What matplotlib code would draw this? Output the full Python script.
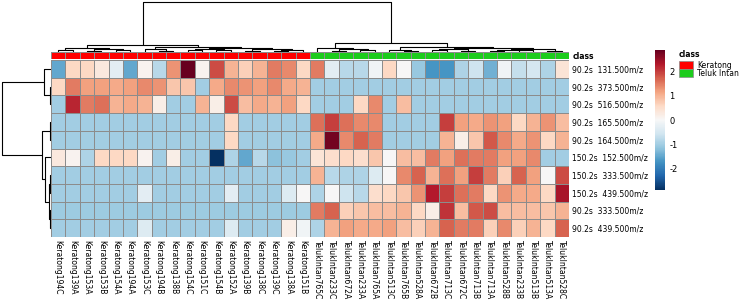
import matplotlib
matplotlib.use("Agg")
import matplotlib.pyplot as plt
import numpy as np
from matplotlib.colors import ListedColormap

plt.rcParams["axes.unicode_minus"] = False

W, H = 740, 301

col_labels = ["Keratong194C", "Keratong139A", "Keratong153A", "Keratong153B", "Keratong154A",
              "Keratong194A", "Keratong153C", "Keratong194B", "Keratong138B", "Keratong154C",
              "Keratong151C", "Keratong154B", "Keratong152A", "Keratong139B", "Keratong138C",
              "Keratong139C", "Keratong138A", "Keratong151B",
              "TelukIntan765C", "TelukIntan233C", "TelukIntan672A", "TelukIntan233A", "TelukIntan765A",
              "TelukIntan513C", "TelukIntan765B", "TelukIntan528A", "TelukIntan672B", "TelukIntan713C",
              "TelukIntan672C", "TelukIntan713B", "TelukIntan713A", "TelukIntan528B", "TelukIntan233B",
              "TelukIntan513B", "TelukIntan513A", "TelukIntan528C"]
col_class = [0] * 18 + [1] * 18
class_names = ["Keratong", "Teluk Intan"]
class_colors = ["#ff0000", "#1ccc1c"]

row_labels = ["90.2s  131.500m/z", "90.2s  373.500m/z", "90.2s  516.500m/z",
              "90.2s  165.500m/z", "90.2s  164.500m/z", "150.2s  152.500m/z",
              "150.2s  333.500m/z", "150.2s  439.500m/z", "90.2s  333.500m/z",
              "90.2s  439.500m/z"]

r0 = [-1.5, 0.6, 0.6, 0.3, -0.3, -1.5, 0.1, -0.8, 1.3, 2.9, 0.1, 1.9, 1.0, 0.7, 1.0, 1.5, 1.4, 0.6,
      1.5, -0.3, -0.8, -0.8, -0.1, 0.6, 0.0, -1.1, -1.7, -1.7, -0.9, -0.6, -1.4, -0.1, -0.7, -0.5, -0.9, 0.4]
r1 = [0.6, 1.5, 1.2, 1.2, 1.1, 1.2, 1.4, 1.3, 0.8, 0.8, -1.0, 1.1, 1.4, 1.3, 1.2, 1.4, 1.1, 1.0,
      -1.0, -1.0, -1.0, -1.0, -1.0, -1.0, -1.0, -1.0, -1.0, -1.0, -1.0, -1.0, -1.0, -1.0, -1.0, -1.0, -1.0, -1.0]
r2 = [-1.0, 2.2, 1.5, 1.6, 1.0, 1.1, 1.0, 0.2, -1.0, -1.0, 1.0, 0.2, 1.9, 0.9, 1.1, 1.0, 1.2, 0.6,
      -1.0, -1.0, -1.0, 0.6, 1.4, -1.0, 0.9, -1.0, -1.0, -1.0, -1.0, -1.0, -1.0, -1.0, -1.0, -1.0, -1.0, -1.0]
r3 = [-1.0, -1.0, -1.0, -1.0, -1.0, -1.0, -1.0, -1.0, -1.0, -1.0, -1.0, -1.0, 0.6, -1.0, -1.0, -1.0, -1.0, -1.0,
      1.6, 2.0, 1.6, 1.4, 1.4, -1.0, -1.0, -1.0, -1.0, 2.0, 1.2, 1.1, 1.3, 1.2, 0.6, 1.0, 1.3, 0.9]
r4 = [-1.0, -1.0, -1.0, -1.0, -1.0, -1.0, -1.0, -1.0, -1.0, -1.0, -1.0, -1.0, 0.6, -1.0, -1.0, -1.0, -1.0, -1.0,
      1.1, 2.8, 1.4, 1.7, 1.5, -1.0, -1.0, -1.0, -1.0, 1.0, 0.2, 0.8, 1.8, 1.4, 1.1, 1.3, 0.6, 1.0]
r5 = [0.3, 0.1, -0.9, 0.6, 0.6, 0.6, 0.1, -1.0, 0.2, -1.0, -1.0, -2.9, -0.9, -1.5, -0.8, -1.2, -1.1, -1.0,
      0.4, 0.5, 0.6, 0.5, 0.8, 0.0, 0.9, 0.9, 1.5, 1.2, 1.6, 1.5, 1.5, 1.2, 1.2, 1.4, -1.0, -1.0]
r6 = [-1.0, -1.0, -1.0, -1.0, -1.0, -1.0, -1.0, -1.0, -1.0, -1.0, -1.0, -1.0, -1.0, -1.0, -1.0, -1.0, -1.0, -1.0,
      1.0, -0.8, -0.9, -0.9, -0.4, 0.0, 1.4, 1.7, 1.0, 1.6, 1.2, 2.0, 1.5, 0.7, 1.7, 1.2, 0.0, 1.9]
r7 = [-1.0, -1.0, -1.0, -1.0, -1.0, -1.0, -0.3, -1.0, -1.0, -1.0, -1.0, -1.0, -0.3, -1.0, -1.0, -1.0, -0.4, 0.0,
      -0.9, 0.0, -0.6, -0.8, 0.5, 0.6, 0.8, 1.3, 2.3, 2.0, 1.6, 1.5, 0.6, 1.3, 1.1, 1.1, 0.6, 2.4]
r8 = [-1.05, -1.05, -1.05, -1.05, -1.05, -1.05, -1.05, -1.05, -1.05, -1.05, -1.05, -1.05, -1.05, -1.05, -1.05, -1.05, -1.05, -1.05,
      1.5, 1.7, 0.7, 0.8, 0.9, 0.9, 1.0, 0.6, 0.2, 2.1, 0.9, 1.8, 1.9, 0.9, 0.9, 0.9, 0.8, 1.0]
r9 = [-1.0, -1.0, -1.0, -1.0, -1.0, -1.0, -0.4, -1.0, -1.0, -1.0, -1.0, -1.0, -0.4, -1.0, -1.0, -1.0, 0.2, -0.1,
      -0.9, 1.0, 1.2, 1.1, 1.1, 1.2, 0.9, 0.7, 1.0, 1.7, 1.5, 1.5, 0.7, 1.4, 0.7, 1.0, 0.6, 1.7]
values = np.array([r0, r1, r2, r3, r4, r5, r6, r7, r8, r9])

# dendrogram trees: (left, right, height), leaves are column / row indices
k_left = ((0, 1, 0.03), ((2, 3, 0.02), (4, 5, 0.03), 0.05), 0.08)
k_right = ((6, (7, 8, 0.02), 0.05),
           (((9, 10, 0.03), (11, 12, 0.04), 0.06), ((13, 14, 0.02), ((15, 16, 0.02), 17, 0.03), 0.05), 0.07),
           0.09)
t_left = (18, ((19, 20, 0.02), (21, 22, 0.03), 0.05), 0.08)
t_right = ((23, (24, 25, 0.02), 0.04),
           (((26, 27, 0.03), (28, 29, 0.02), 0.05), (((30, 31, 0.02), (32, 33, 0.03), 0.04), (34, 35, 0.02), 0.06), 0.075),
           0.10)
col_tree = ((k_left, k_right, 0.134), (t_left, t_right, 0.18), 1.0)
row_tree = ((0, (1, 2, 0.02), 0.14),
            ((3, 4, 0.02), (5, ((6, 7, 0.03), (8, 9, 0.02), 0.05), 0.12), 0.19),
            1.0)


def draw_tree(ax, node, vertical=True):
    # returns (position, height) of the node
    if isinstance(node, int):
        return node + 0.5, 0.0
    lp, lh = draw_tree(ax, node[0], vertical)
    rp, rh = draw_tree(ax, node[1], vertical)
    h = node[2]
    pos = [lp, lp, rp, rp]
    hts = [lh, h, h, rh]
    if vertical:
        ax.plot(pos, hts, color="black", lw=0.8, solid_capstyle="butt")
    else:
        ax.plot(hts, pos, color="black", lw=0.8, solid_capstyle="butt")
    return (lp + rp) / 2, h


def rect(x0, y0, x1, y1):
    return [x0 / W, 1 - y1 / H, (x1 - x0) / W, (y1 - y0) / H]


fig = plt.figure(figsize=(W / 100, H / 100), dpi=100)
cmap = plt.get_cmap("RdBu_r")
vmax = 2.9
hx0, hx1, hy0, hy1 = 51, 569, 60, 237
ncol, nrow = values.shape[1], values.shape[0]

ax = fig.add_axes(rect(hx0, hy0, hx1, hy1))
mesh = ax.pcolormesh(values, cmap=cmap, vmin=-vmax, vmax=vmax, edgecolors="#8c8c8c", linewidth=0.6)
ax.set_xlim(0, ncol)
ax.set_ylim(nrow, 0)
ax.set_xticks(np.arange(ncol) + 0.5)
ax.set_xticklabels(col_labels, rotation=270, fontsize=5.5)
ax.set_yticks(np.arange(nrow) + 0.5)
ax.set_yticklabels(row_labels, fontsize=5.5)
ax.yaxis.tick_right()
ax.tick_params(length=0, pad=2.5)
for s in ax.spines.values():
    s.set_visible(False)

axc = fig.add_axes(rect(hx0, 52, hx1, 59))
axc.pcolormesh([col_class], cmap=ListedColormap(class_colors), vmin=0, vmax=1,
               edgecolors="#8c8c8c", linewidth=0.6)
axc.set_xlim(0, ncol)
axc.set_xticks([])
axc.set_yticks([0.5])
axc.set_yticklabels(["class"], fontsize=5.5, fontweight="bold")
axc.yaxis.tick_right()
axc.tick_params(length=0, pad=2.5)
for s in axc.spines.values():
    s.set_visible(False)

axd = fig.add_axes(rect(hx0, 0, hx1, 51.7))
draw_tree(axd, col_tree, vertical=True)
axd.set_xlim(0, ncol)
axd.set_ylim(0, 1.035)
axd.axis("off")

axr = fig.add_axes(rect(0, hy0, hx0, hy1))
draw_tree(axr, row_tree, vertical=False)
axr.set_ylim(nrow, 0)
axr.set_xlim(1.05, 0)
axr.axis("off")

axb = fig.add_axes(rect(655, 50, 665, 190))
cb = fig.colorbar(mesh, cax=axb, ticks=[-2, -1, 0, 1, 2])
cb.outline.set_visible(False)
axb.tick_params(length=0, labelsize=6, pad=3)

fig.text(679 / W, 1 - 54 / H, "class", fontsize=5.5, fontweight="bold", va="center")
for i, name in enumerate(class_names):
    y = 61 + i * 8.3
    fig.patches.append(plt.Rectangle((679 / W, 1 - (y + 8) / H), 14 / W, 8 / H,
                                     transform=fig.transFigure, facecolor=class_colors[i],
                                     edgecolor="#8c8c8c", lw=0.5))
    fig.text(697 / W, 1 - (y + 4) / H, name, fontsize=5.5, va="center")

fig.savefig("out.png", dpi=100)
